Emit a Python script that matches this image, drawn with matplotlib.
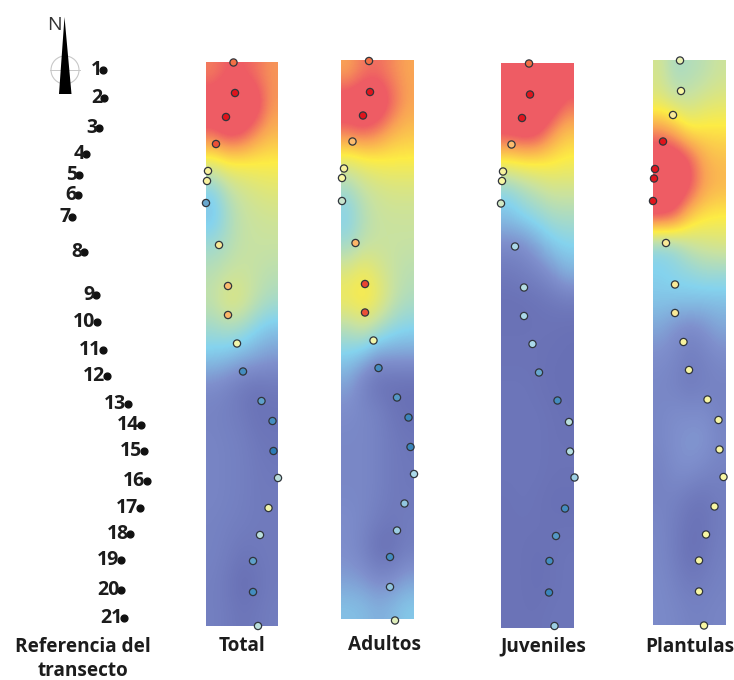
import numpy as np
import matplotlib
matplotlib.use("Agg")
import matplotlib.pyplot as plt
from matplotlib.colors import LinearSegmentedColormap
from matplotlib.patches import Polygon, Arc

plt.rcParams['font.family'] = ['Open Sans', 'DejaVu Sans']

# Station reference labels and locations
stations = [str(i) for i in range(1, 22)]
ref_x = [103,104,99,86,79,78,72,84,96,97,103,107,128,141,144,147,140,130,121,121,124]
ref_y = [70,98,128,154,175,195,217,252,295,322,350,376,404,425,451,481,508,534,560,590,618]

panel_names = ["Total", "Adultos", "Juveniles", "Plantulas"]
label_x = [242, 384, 543, 690]
label_y = [646, 645, 646, 647]
extents = [(206, 278, 626, 62), (341, 414, 619, 60), (501, 574, 628, 63), (653, 726, 625, 60)]

total_x = [233.5,235,226,216,208,207,206,219,228,228,237,243,261.5,272.5,273.5,278,268.5,260,253,253,258]
total_y = [62.5,93,117,144,171,181,203,245,286,315,343.5,371.5,401,421,451,478,508,535,561,592,626]
adult_x = [369,370,363,352.5,344,342,342,355.5,365,365,373.5,378.5,397,408.5,410.5,414,404.5,397,390,390,395]
adult_y = [61,92,115.5,141.5,168.5,178,201,243,284,312.5,340.5,368,397.5,417.5,447,474,503.5,530.5,557,587,620.5]
juv_x = [529,530,522,511.5,503,502,501,515,524,524,532.5,539,557.5,569,570,574.5,565,556,549.5,549,554.5]
juv_y = [63.5,94.5,118,144.5,171.5,181,203.5,246.5,287.5,316,344,372.5,400.5,422,451.5,477.5,508.5,536,561,592.5,626]
plant_x = [680,681,673,663,655,654,653,666,675,675,683.5,689,707.5,718.5,719.5,723.5,714.5,706,699,699,704]
plant_y = [60.5,91,115,141.5,169,178.5,201,243,284.5,313,342,370,399.5,420,449.5,477,506.5,534.5,560.5,591.5,625.5]

# Station values (0 = low, 1 = high) as shown by the marker colours
total_v = [.85,1,1,.9,.52,.52,.12,.55,.7,.72,.48,.05,.1,.05,0,.3,.48,.3,.1,.05,.3]
adult_v = [.85,1,1,.7,.52,.5,.35,.72,.92,.9,.48,.05,.08,.03,.03,.25,.2,.22,.05,.2,.42]
juv_v = [.85,1,1,.7,.52,.5,.38,.25,.28,.25,.25,.12,.05,.3,.28,.22,.05,.08,.05,.03,.22]
plant_v = [.45,.5,.55,1,1,1,1,.55,.55,.55,.52,.5,.5,.5,.5,.5,.5,.5,.5,.5,.5]

# Interpolated surfaces: 20 rows (north to south) x 5 columns (west to east)
total_field = [
 [.82,.88,.88,.84,.78],[.97,1.0,1.0,.97,.78],[.88,.96,.93,.80,.72],[.55,.60,.60,.60,.60],
 [.30,.42,.47,.50,.52],[.26,.37,.44,.46,.47],[.36,.40,.44,.45,.45],[.42,.45,.46,.44,.42],
 [.44,.52,.50,.43,.38],[.36,.38,.36,.30,.26],[.27,.25,.22,.20,.17],[.13,.10,.06,.04,.06],
 [.10,.09,.07,.04,.04],[.11,.10,.09,.06,.05],[.11,.10,.09,.07,.06],[.11,.10,.09,.07,.07],
 [.10,.09,.08,.07,.07],[.10,.08,.05,.06,.07],[.09,.06,.02,.04,.07],[.09,.07,.05,.06,.08]]
adult_field = [
 [.75,.83,.85,.80,.75],[.97,1.0,1.0,.88,.76],[.86,.90,.84,.74,.70],[.55,.58,.60,.60,.60],
 [.38,.45,.48,.50,.50],[.30,.40,.45,.46,.46],[.35,.42,.45,.45,.45],[.50,.56,.50,.45,.42],
 [.58,.62,.56,.46,.40],[.42,.48,.42,.35,.32],[.30,.27,.20,.20,.20],[.20,.10,.03,.03,.03],
 [.14,.12,.10,.05,.03],[.12,.12,.10,.07,.05],[.12,.12,.10,.07,.06],[.12,.12,.10,.07,.06],
 [.14,.12,.08,.06,.08],[.14,.10,.03,.03,.08],[.18,.16,.12,.13,.18],[.26,.25,.22,.24,.28]]
juv_field = [
 [1.0,1.0,1.0,1.0,.95],[1.0,1.0,1.0,.97,.85],[.92,.96,.94,.78,.68],[.58,.60,.60,.60,.58],
 [.32,.38,.43,.47,.47],[.26,.30,.33,.37,.38],[.12,.13,.20,.27,.30],[.06,.08,.10,.15,.22],
 [.03,.03,.04,.05,.06],[.04,.04,.04,.04,.03],[.04,.04,.04,.03,.03],[.05,.05,.04,.03,.03],
 [.05,.05,.05,.04,.03],[.05,.05,.05,.04,.04],[.05,.05,.05,.04,.04],[.04,.05,.04,.03,.03],
 [.04,.04,.04,.04,.04],[.04,.04,.03,.04,.05],[.04,.04,.03,.04,.05],[.04,.04,.04,.05,.05]]
plant_field = [
 [.48,.38,.40,.42,.46],[.52,.47,.46,.50,.52],[.80,.72,.60,.62,.62],[1.0,1.0,.90,.74,.70],
 [1.0,1.0,.92,.76,.72],[.96,.90,.68,.62,.60],[.32,.35,.45,.48,.50],[.30,.32,.33,.36,.36],
 [.27,.27,.27,.26,.26],[.20,.15,.12,.15,.20],[.14,.12,.08,.10,.13],[.12,.10,.07,.09,.10],
 [.12,.14,.14,.14,.10],[.12,.15,.17,.17,.12],[.10,.14,.15,.12,.10],[.10,.10,.06,.05,.08],
 [.12,.08,.04,.04,.08],[.12,.08,.03,.05,.09],[.13,.10,.07,.08,.10],[.13,.12,.10,.10,.11]]

fields = [total_field, adult_field, juv_field, plant_field]
xs = [total_x, adult_x, juv_x, plant_x]
ys = [total_y, adult_y, juv_y, plant_y]
vals = [total_v, adult_v, juv_v, plant_v]

surface_cmap = LinearSegmentedColormap.from_list("surface", [
    (0.00, "#6469b0"), (0.15, "#7f90cd"), (0.30, "#85d3ee"), (0.45, "#c8e2a2"),
    (0.60, "#fdec45"), (0.76, "#f9a255"), (0.88, "#ee5c64"), (1.00, "#ee5c64")])
marker_cmap = LinearSegmentedColormap.from_list("marker", [
    "#2c7bb6", "#abd9e9", "#f8f8a4", "#fdae61", "#e0141c"])

fig = plt.figure(figsize=(7.34, 6.8), dpi=100)
ax = fig.add_axes([0, 0, 1, 1])

for field, ext, name, lx, ly, x, y, v in zip(fields, extents, panel_names, label_x, label_y, xs, ys, vals):
    ax.imshow(np.array(field), extent=ext, cmap=surface_cmap, vmin=0, vmax=1,
              interpolation="bicubic", aspect="auto", zorder=1)
    ax.scatter(x, y, c=v, cmap=marker_cmap, vmin=0, vmax=1, s=27, edgecolors="#30353c",
               linewidths=0.9, zorder=3, clip_on=False)
    ax.text(lx, ly, name, ha="center", va="center", fontsize=13.7, fontweight="bold", color="#1c1c1c")

# Transect reference
ax.scatter(ref_x, ref_y, s=24, c="#111111", zorder=3)
for s, x, y in zip(stations, ref_x, ref_y):
    ax.text(x - 1.5, y, s, ha="right", va="center", fontsize=14, fontweight="bold", color="#1c1c1c")
ax.text(83, 647, "Referencia del", ha="center", va="center", fontsize=13.7, fontweight="bold", color="#1c1c1c")
ax.text(83, 671, "transecto", ha="center", va="center", fontsize=13.7, fontweight="bold", color="#1c1c1c")

# North arrow
ax.add_patch(Arc((65, 70), 28, 28, color="#c8c8c8", lw=0.8, zorder=2))
ax.plot([50, 80], [70, 70], color="#c8c8c8", lw=0.7, zorder=2)
ax.add_patch(Polygon([(64.5, 17), (59, 94), (71.5, 94)], closed=True, fc="#000000", ec="none", zorder=3))
ax.text(54, 25, "N", ha="center", va="center", fontsize=14, color="#333333")

ax.set_xlim(0, 734)
ax.set_ylim(680, 0)
ax.axis("off")
fig.savefig("out.png", dpi=100, facecolor="white")
